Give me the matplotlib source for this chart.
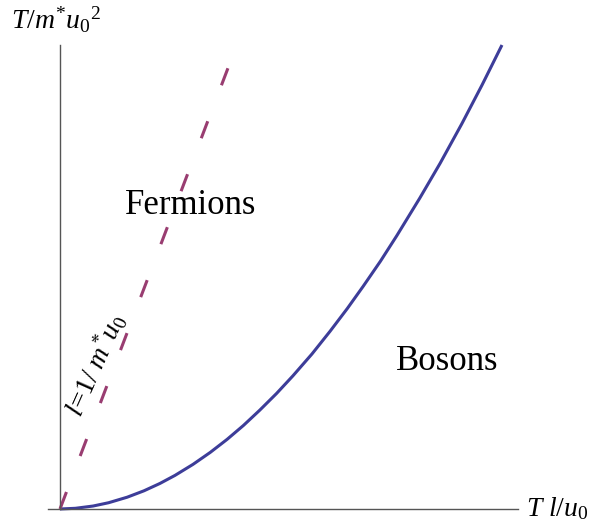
#!/usr/bin/env python3
import matplotlib
matplotlib.use("Agg")
import matplotlib.pyplot as plt

# Boson curve (x = T l/u0, y = T/m*u0^2, both scaled to 1)
BOSON_X = [0.0, 0.035, 0.075, 0.11, 0.152, 0.19, 0.226, 0.26, 0.301, 0.34,
           0.378, 0.415, 0.452, 0.49, 0.527, 0.57, 0.611, 0.65, 0.686, 0.725,
           0.762, 0.814, 0.86, 0.909, 0.955, 1.0]
BOSON_Y = [0.0, 0.0015, 0.0064, 0.0135, 0.0254, 0.0392, 0.055, 0.0723,
           0.0962, 0.122, 0.150, 0.180, 0.213, 0.249, 0.287, 0.334, 0.383,
           0.432, 0.480, 0.534, 0.589, 0.670, 0.745, 0.830, 0.914, 1.0]

# Fermion boundary l = 1/m*u0 (straight dashed line)
FERMI_X = [0.0, 0.38]
FERMI_Y = [0.0, 0.95]

BLUE = "#3d3d99"
PURPLE = "#993d71"
AXIS = "#555555"

plt.rcParams["mathtext.fontset"] = "custom"
plt.rcParams["mathtext.rm"] = "Liberation Serif"
plt.rcParams["mathtext.it"] = "Liberation Serif:italic"
plt.rcParams["font.family"] = "Liberation Serif"

fig = plt.figure(figsize=(5.96, 5.25), dpi=100)
ax = fig.add_axes([0, 0, 1, 1])
ax.set_xlim(-0.1357, 1.2127)
ax.set_ylim(-0.0345, 1.097)

ax.plot(BOSON_X, BOSON_Y, color=BLUE, lw=2.2, solid_capstyle="butt",
        solid_joinstyle="round")
ax.plot(FERMI_X, FERMI_Y, color=PURPLE, lw=2.2, dashes=(5.95, 12.6),
        dash_capstyle="butt")

# axes through the origin
for s in ["top", "right"]:
    ax.spines[s].set_visible(False)
ax.spines["left"].set_position(("data", 0))
ax.spines["bottom"].set_position(("data", 0))
ax.spines["left"].set_bounds(0, 1.0)
ax.spines["bottom"].set_bounds(-0.027, 1.036)
for s in ["left", "bottom"]:
    ax.spines[s].set_color(AXIS)
    ax.spines[s].set_linewidth(1.0)
ax.set_xticks([])
ax.set_yticks([])
ax.patch.set_visible(False)

ax.text(-0.11, 1.055, r"$T/m^{*}u_{\mathit{0}}{}^2$", fontsize=20,
        va="center", ha="left")
ax.text(1.055, 0.0, r"$T\ l/u_{\mathit{0}}$", fontsize=20, va="center",
        ha="left")
ax.text(0.296, 0.655, "Fermions", fontsize=25, ha="center", va="center")
ax.text(0.876, 0.317, "Bosons", fontsize=25, ha="center", va="center")
ax.text(0.08, 0.31, r"$l\!=\!1/\ m^{*}u_{\mathit{0}}$", fontsize=20,
        rotation=66, ha="center", va="center", rotation_mode="anchor")

fig.savefig("out.png", dpi=100)
